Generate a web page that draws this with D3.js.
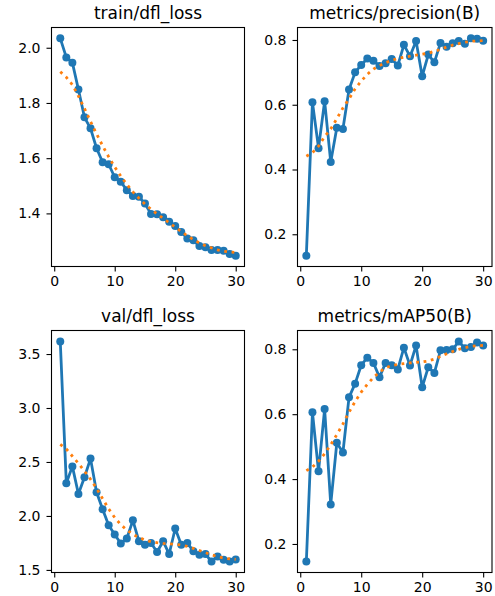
<!DOCTYPE html>
<html>
<head>
<meta charset="utf-8">
<script src="https://cdn.jsdelivr.net/npm/d3@7"></script>
<style>
  body { margin: 0; background: #fff; }
  svg text { font-family: "DejaVu Sans", sans-serif; }
</style>
</head>
<body>
<div id="chart"></div>
<script>
// epochs on the x axis
const epochs = [1, 2, 3, 4, 5, 6, 7, 8, 9, 10, 11, 12, 13, 14, 15, 16, 17, 18, 19, 20,
                21, 22, 23, 24, 25, 26, 27, 28, 29, 30];

// values (raw + smoothed)
const trainDfl = [2.034, 1.965, 1.946, 1.849, 1.748, 1.708, 1.636, 1.585, 1.578, 1.531,
                  1.515, 1.484, 1.463, 1.460, 1.436, 1.398, 1.397, 1.386, 1.370, 1.354,
                  1.333, 1.309, 1.303, 1.282, 1.277, 1.267, 1.267, 1.265, 1.253, 1.247];
const trainDflSmooth = [1.913, 1.893, 1.866, 1.825, 1.780, 1.733, 1.688, 1.645, 1.605, 1.568,
                        1.535, 1.505, 1.478, 1.455, 1.434, 1.415, 1.398, 1.382, 1.366, 1.350,
                        1.334, 1.319, 1.305, 1.293, 1.283, 1.275, 1.268, 1.263, 1.260, 1.258];

const precision = [0.134, 0.608, 0.466, 0.611, 0.423, 0.529, 0.525, 0.647, 0.700, 0.723,
                   0.743, 0.736, 0.720, 0.728, 0.741, 0.721, 0.785, 0.750, 0.797, 0.688,
                   0.755, 0.731, 0.791, 0.779, 0.790, 0.797, 0.788, 0.805, 0.804, 0.798];
const precisionSmooth = [0.441, 0.452, 0.472, 0.502, 0.525, 0.557, 0.590, 0.618, 0.649, 0.673,
                         0.694, 0.710, 0.721, 0.730, 0.737, 0.743, 0.747, 0.750, 0.753, 0.756,
                         0.759, 0.765, 0.771, 0.778, 0.784, 0.789, 0.793, 0.796, 0.797, 0.798];

const valDfl = [3.616, 2.303, 2.459, 2.203, 2.359, 2.531, 2.219, 2.062, 1.913, 1.828,
                1.744, 1.791, 1.959, 1.766, 1.734, 1.750, 1.666, 1.766, 1.647, 1.884,
                1.734, 1.750, 1.672, 1.641, 1.647, 1.578, 1.625, 1.594, 1.578, 1.597];
const valDflSmooth = [2.663, 2.620, 2.553, 2.487, 2.415, 2.340, 2.255, 2.160, 2.065, 1.985,
                      1.920, 1.870, 1.830, 1.800, 1.778, 1.762, 1.752, 1.746, 1.742, 1.737,
                      1.730, 1.718, 1.700, 1.680, 1.660, 1.640, 1.623, 1.610, 1.602, 1.598];

const mAP50 = [0.146, 0.606, 0.424, 0.616, 0.322, 0.512, 0.482, 0.652, 0.694, 0.751,
               0.774, 0.758, 0.714, 0.758, 0.751, 0.738, 0.805, 0.750, 0.812, 0.683,
               0.745, 0.727, 0.797, 0.798, 0.800, 0.824, 0.803, 0.807, 0.821, 0.812];
const mAP50Smooth = [0.426, 0.437, 0.455, 0.478, 0.506, 0.537, 0.570, 0.606, 0.639, 0.668,
                     0.692, 0.713, 0.730, 0.743, 0.750, 0.753, 0.756, 0.758, 0.760, 0.761,
                     0.764, 0.770, 0.778, 0.786, 0.793, 0.800, 0.805, 0.809, 0.811, 0.812];

// tick values
const xTicks = [0, 10, 20, 30];
const trainTicks = [1.4, 1.6, 1.8, 2.0];
const precisionTicks = [0.2, 0.4, 0.6, 0.8];
const valTicks = [1.5, 2.0, 2.5, 3.0, 3.5];
const mAPTicks = [0.2, 0.4, 0.6, 0.8];

const titles = ["train/dfl_loss", "metrics/precision(B)", "val/dfl_loss", "metrics/mAP50(B)"];

// plot boxes (pixels), roughly matching the matplotlib subplot grid
const W = 495, H = 596;
const cols = [{ left: 51.5, right: 244.5 }, { left: 297.5, right: 492 }];
const rows = [{ top: 27.5, bottom: 266.5 }, { top: 330.5, bottom: 572.5 }];

const panels = [
    { title: titles[0], raw: trainDfl, smooth: trainDflSmooth, ticks: trainTicks, col: 0, row: 0 },
    { title: titles[1], raw: precision, smooth: precisionSmooth, ticks: precisionTicks, col: 1, row: 0 },
    { title: titles[2], raw: valDfl, smooth: valDflSmooth, ticks: valTicks, col: 0, row: 1 },
    { title: titles[3], raw: mAP50, smooth: mAP50Smooth, ticks: mAPTicks, col: 1, row: 1 }
];

const BLUE = "#1f77b4";
const ORANGE = "#ff7f0e";
const TICK_FONT = 14;
const TITLE_FONT = 17;

const svg = d3.select("#chart")
    .append("svg")
    .attr("width", W)
    .attr("height", H);

svg.append("rect").attr("width", W).attr("height", H).attr("fill", "#fff");

// matplotlib style auto limits: data extent with 5% margins
function padded(lo, hi) {
    const m = (hi - lo) * 0.05;
    return [lo - m, hi + m];
}

panels.forEach(p => {
    const { left, right } = cols[p.col];
    const { top, bottom } = rows[p.row];

    const x = d3.scaleLinear()
        .domain(padded(d3.min(epochs), d3.max(epochs)))
        .range([left, right]);

    const all = p.raw.concat(p.smooth);
    const y = d3.scaleLinear()
        .domain(padded(d3.min(all), d3.max(all)))
        .range([bottom, top]);

    const g = svg.append("g");

    // axes
    const xAxis = g.append("g")
        .attr("transform", `translate(0, ${bottom})`)
        .call(d3.axisBottom(x).tickValues(xTicks).tickSize(5).tickPadding(5).tickFormat(d3.format("d")));

    const yAxis = g.append("g")
        .attr("transform", `translate(${left}, 0)`)
        .call(d3.axisLeft(y).tickValues(p.ticks).tickSize(5).tickPadding(6).tickFormat(d3.format(".1f")));

    [xAxis, yAxis].forEach(a => {
        a.attr("font-size", TICK_FONT).attr("font-family", "DejaVu Sans, sans-serif");
        a.select(".domain").remove();
        a.selectAll(".tick line").attr("stroke", "#000").attr("stroke-width", 1.1);
        a.selectAll(".tick text").attr("fill", "#000");
    });

    const line = d3.line()
        .x((d, i) => x(epochs[i]))
        .y(d => y(d));

    // raw series with markers
    g.append("path")
        .datum(p.raw)
        .attr("d", line)
        .attr("fill", "none")
        .attr("stroke", BLUE)
        .attr("stroke-width", 2.8)
        .attr("stroke-linejoin", "round");

    g.selectAll("circle")
        .data(p.raw)
        .enter()
        .append("circle")
        .attr("cx", (d, i) => x(epochs[i]))
        .attr("cy", d => y(d))
        .attr("r", 4)
        .attr("fill", BLUE);

    // smoothed series, dotted
    g.append("path")
        .datum(p.smooth)
        .attr("d", line)
        .attr("fill", "none")
        .attr("stroke", ORANGE)
        .attr("stroke-width", 2.8)
        .attr("stroke-dasharray", "2.8,4.6");

    // frame on top like matplotlib spines
    g.append("rect")
        .attr("x", left)
        .attr("y", top)
        .attr("width", right - left)
        .attr("height", bottom - top)
        .attr("fill", "none")
        .attr("stroke", "#000")
        .attr("stroke-width", 1.1);

    g.append("text")
        .attr("x", (left + right) / 2)
        .attr("y", top - 9)
        .attr("text-anchor", "middle")
        .attr("font-size", TITLE_FONT)
        .attr("fill", "#000")
        .text(p.title);
});
</script>
</body>
</html>
